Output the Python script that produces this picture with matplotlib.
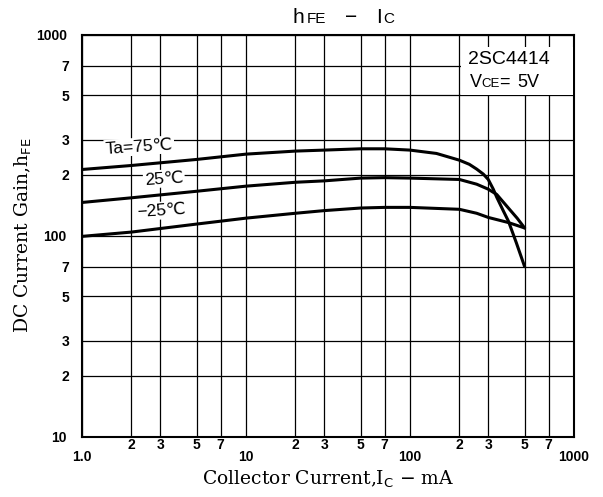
import numpy as np
import matplotlib
matplotlib.use('Agg')
import matplotlib.pyplot as plt
from matplotlib.ticker import FixedLocator, FixedFormatter

# readings (Ic in mA, hFE)
ic_75 = [1, 2, 5, 10, 20, 30, 50, 70, 100, 145, 200, 230, 255, 280, 300, 322, 338, 370, 398, 445, 500]
hfe_75 = [213, 223, 239, 254, 263, 266, 270, 270, 266, 256, 237, 226, 214, 202, 190, 170, 155, 133, 118, 92, 70]
ic_25 = [1, 2, 5, 10, 20, 30, 50, 70, 100, 200, 255, 300, 338, 398, 450, 500]
hfe_25 = [146, 154, 166, 176, 184, 187, 193, 194, 193, 190, 180, 170, 160, 137, 122, 109]
ic_m25 = [1, 2, 5, 10, 20, 30, 50, 70, 100, 200, 255, 300, 398, 500]
hfe_m25 = [99, 104, 114, 122, 129, 133, 137, 138, 138, 135, 129, 123, 116, 109]

x_major = [1, 10, 100, 1000]
x_major_labels = ['1.0', '10', '100', '1000']
x_minor = [2, 3, 5, 7, 20, 30, 50, 70, 200, 300, 500, 700]
x_minor_labels = ['2', '3', '5', '7'] * 3
y_major = [10, 100, 1000]
y_major_labels = ['10', '100', '1000']
y_minor = [20, 30, 50, 70, 200, 300, 500, 700]
y_minor_labels = ['2', '3', '5', '7'] * 2

W, H = 603, 497
fig = plt.figure(figsize=(W / 100, H / 100), dpi=100)
ax = fig.add_axes([82 / W, 1 - 436.5 / H, 492 / W, 402 / H])

sans = ['Liberation Sans', 'DejaVu Sans']

ax.plot(ic_75, hfe_75, color='black', lw=2.2, solid_capstyle='round', zorder=3)
ax.plot(ic_25, hfe_25, color='black', lw=2.2, solid_capstyle='round', zorder=3)
ax.plot(ic_m25, hfe_m25, color='black', lw=2.2, solid_capstyle='round', zorder=3)

ax.set_xscale('log')
ax.set_yscale('log')
ax.set_xlim(1, 1000)
ax.set_ylim(10, 1000)

ax.xaxis.set_major_locator(FixedLocator(x_major))
ax.xaxis.set_major_formatter(FixedFormatter(x_major_labels))
ax.xaxis.set_minor_locator(FixedLocator(x_minor))
ax.xaxis.set_minor_formatter(FixedFormatter(x_minor_labels))
ax.yaxis.set_major_locator(FixedLocator(y_major))
ax.yaxis.set_major_formatter(FixedFormatter(y_major_labels))
ax.yaxis.set_minor_locator(FixedLocator(y_minor))
ax.yaxis.set_minor_formatter(FixedFormatter(y_minor_labels))

ax.tick_params(axis='x', which='major', length=0, pad=10)
ax.tick_params(axis='x', which='minor', length=0, pad=1)
ax.tick_params(axis='y', which='major', length=0, pad=11)
ax.tick_params(axis='y', which='minor', length=0, pad=9)
for lab in ax.get_xticklabels(which='both') + ax.get_yticklabels(which='both'):
    lab.set_fontfamily(sans)
    lab.set_fontweight('bold')
    lab.set_fontsize(10)

ax.grid(which='both', color='black', lw=0.9)
for s in ax.spines.values():
    s.set_linewidth(1.5)

ax.set_xlabel(r'Collector Current,I$_{\rm C}$ $-$ mA', family='DejaVu Serif',
              fontsize=13.5, labelpad=3)
ax.set_ylabel(r'DC Current Gain,h$_{\rm FE}$', family='DejaVu Serif',
              fontsize=13.5, labelpad=1)

box = dict(facecolor='white', edgecolor='none', pad=1)
ax.text(2.23, 277, 'Ta=75℃', family=sans, fontsize=12.5, ha='center', va='center',
        rotation=4, bbox=box, zorder=2)
ax.text(3.16, 192, '25℃', family=sans, fontsize=12.5, ha='center', va='center',
        rotation=4, bbox=box, zorder=2)
ax.text(3.06, 133, '−25℃', family=sans, fontsize=12.5, ha='center', va='center',
        rotation=4, bbox=box, zorder=2)

# device / condition box in the upper right
def fx(px):
    return px / W

def fy(py):
    return 1 - py / H

fig.patches.append(plt.Rectangle((fx(461), fy(95)), fx(573) - fx(461), fy(47) - fy(95),
                                 transform=fig.transFigure, facecolor='white',
                                 edgecolor='none', zorder=5))
fig.text(fx(468), fy(64.5), '2SC4414', family=sans, fontsize=14, zorder=6)
fig.text(fx(470), fy(87), 'V', family=sans, fontsize=13, zorder=6)
fig.text(fx(481), fy(87), 'CE', family=sans, fontsize=9.5, zorder=6)
fig.text(fx(499), fy(87), '=', family=sans, fontsize=13, zorder=6)
fig.text(fx(517), fy(87), '5V', family=sans, fontsize=13, zorder=6)

# title with small-caps style subscripts
fig.text(fx(292), fy(22.7), 'h', family=sans, fontsize=15)
fig.text(fx(307), fy(22.7), 'FE', family=sans, fontsize=11)
fig.text(fx(345), fy(22.7), '−', family=sans, fontsize=15)
fig.text(fx(376), fy(22.7), 'I', family=sans, fontsize=15)
fig.text(fx(383), fy(22.7), 'C', family=sans, fontsize=11)

fig.savefig('out.png', dpi=100)
